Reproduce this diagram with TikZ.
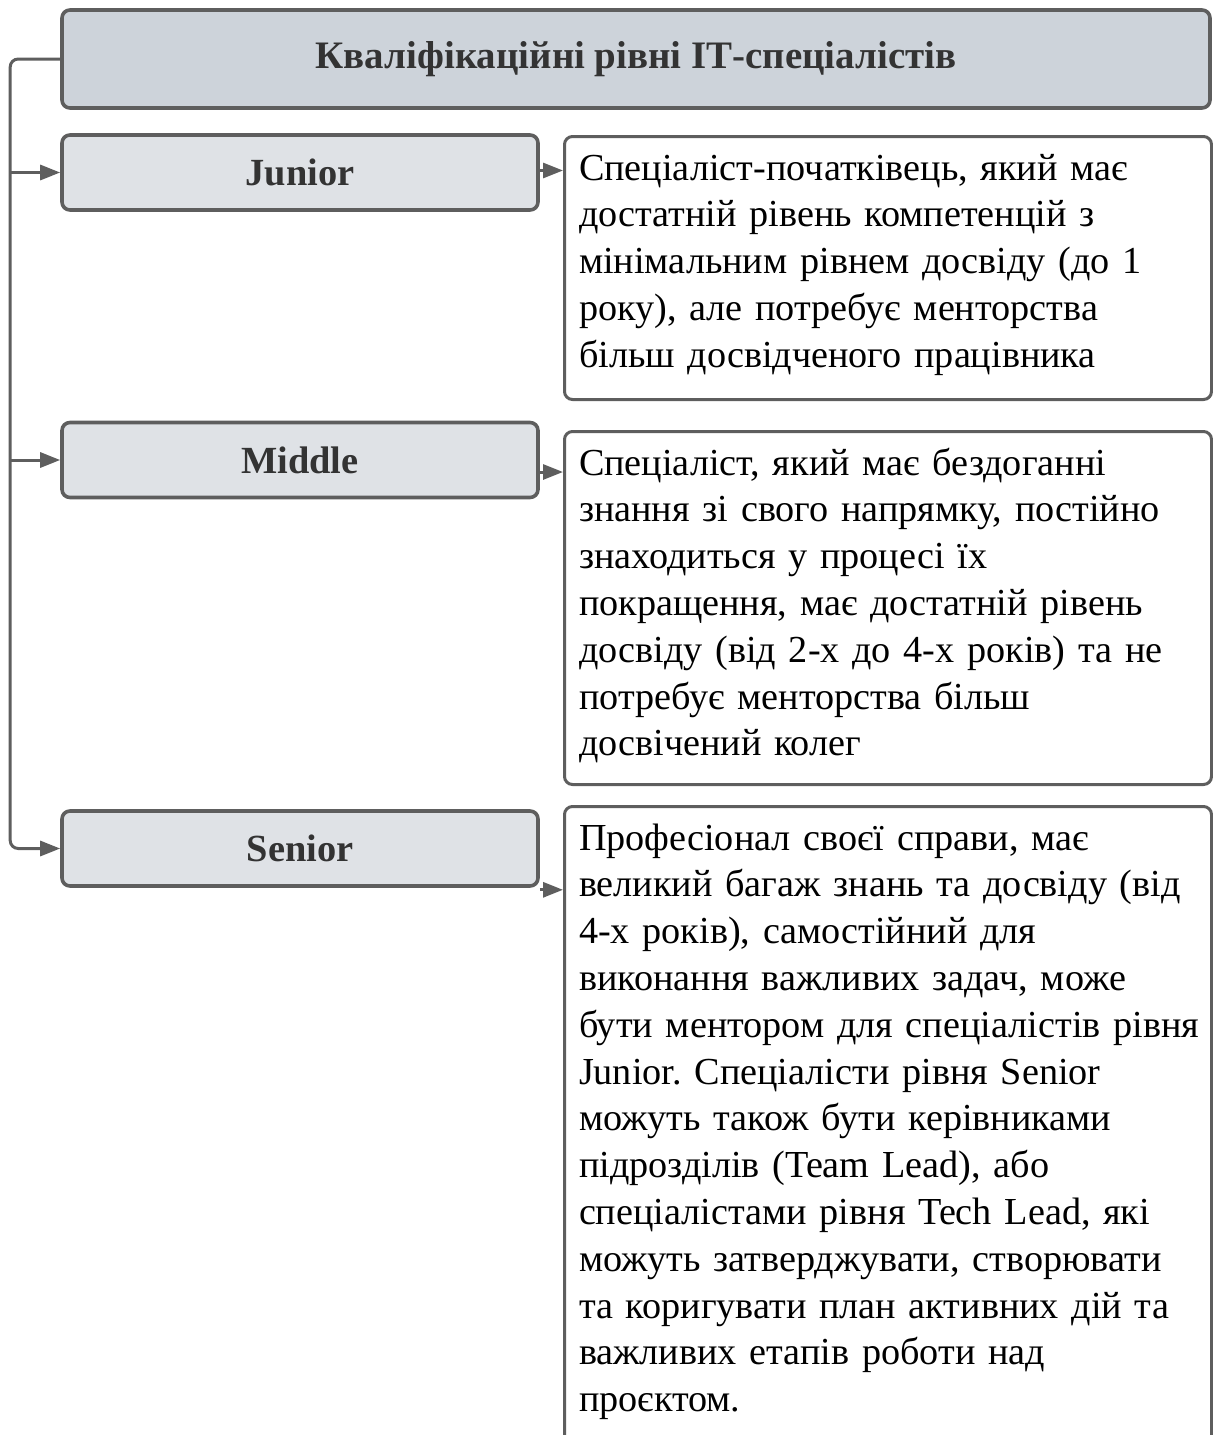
\documentclass[tikz,border=0pt]{standalone}
\usepackage{fontspec}
\setmainfont{Liberation Serif}
\usetikzlibrary{arrows.meta, positioning}

\definecolor{edgegray}{HTML}{5E5E5E}
\definecolor{headfill}{HTML}{CDD3DA}
\definecolor{levelfill}{HTML}{DFE2E6}
\definecolor{headtext}{HTML}{333333}

\begin{document}
\frenchspacing
\begin{tikzpicture}[x=0.5pt, y=-0.5pt, >={Triangle[length=10pt, width=7.5pt]},
  conn/.style={draw=edgegray, line width=1.5pt},
  headbox/.style={draw=edgegray, line width=1.8pt, rounded corners=4pt, fill=headfill,
    minimum width=574pt, minimum height=49pt, text=headtext,
    font=\fontsize{19.45}{23.4}\selectfont\bfseries},
  levelbox/.style={draw=edgegray, line width=1.8pt, rounded corners=4pt, fill=levelfill,
    minimum width=238pt, minimum height=37.5pt, text=headtext,
    font=\fontsize{19.2}{23.4}\selectfont\bfseries},
  descbox/.style={draw=edgegray, line width=1.5pt, rounded corners=4pt, fill=white,
    anchor=north west, align=left, text width=309pt, inner xsep=7.25pt, inner ysep=4pt,
    text height=17.75pt, font=\fontsize{19.1}{23.4}\selectfont}]
  \useasboundingbox (0,0) rectangle (1212,1435);

  % Header and levels
  \node[headbox] (head) at (636,59) {Кваліфікаційні рівні ІТ-спеціалістів};
  \node[levelbox] (junior) at (300,172.5) {Junior};
  \node[levelbox] (middle) at (300,460) {Middle};
  \node[levelbox] (senior) at (300,848.5) {Senior};

  % Descriptions
  \node[descbox, text depth=105.75pt] (jdesc) at (563,135)
    {Спеціаліст-початківець, який має\\достатній рівень компетенцій з\\мінімальним рівнем досвіду (до 1\\року), але потребує менторства\\більш досвідченого працівника};
  \node[descbox, text depth=150.75pt] (mdesc) at (563,430)
    {Спеціаліст, який має бездоганні\\знання зі свого напрямку, постійно\\знаходиться у процесі їх\\покращення, має достатній рівень\\досвіду (від 2-х до 4-х років) та не\\потребує менторства більш\\досвічений колег};
  \node[descbox, text depth=311.75pt] (sdesc) at (563,805)
    {Професіонал своєї справи, має\\великий багаж знань та досвіду (від\\4-х років), самостійний для\\виконання важливих задач, може\\\mbox{бути ментором для спеціалістів рівня}\\Junior. Спеціалісти рівня Senior\\можуть також бути керівниками\\підрозділів (Team Lead), або\\спеціалістами рівня Tech Lead, які\\можуть затверджувати, створювати\\та коригувати план активних дій та\\важливих етапів роботи над\\проєктом.};

  % Spine from the header
  \draw[conn, rounded corners=4pt, ->] (head.west) -| ([xshift=-25pt]senior.west) -- (senior.west);
  \draw[conn, ->] ([xshift=-25pt]junior.west) -- (junior.west);
  \draw[conn, ->] ([xshift=-25pt]middle.west) -- (middle.west);

  % Levels to descriptions
  \draw[conn, ->] ([yshift=1pt]junior.east) -- ([yshift=1pt]junior.east -| jdesc.west);
  \draw[conn, ->] ([yshift=-6pt]middle.east) -- ([yshift=-6pt]middle.east -| mdesc.west);
  \draw[conn, ->] ([yshift=-1pt]senior.south east) -- ([yshift=-1pt]senior.south east -| sdesc.west);
\end{tikzpicture}
\end{document}
